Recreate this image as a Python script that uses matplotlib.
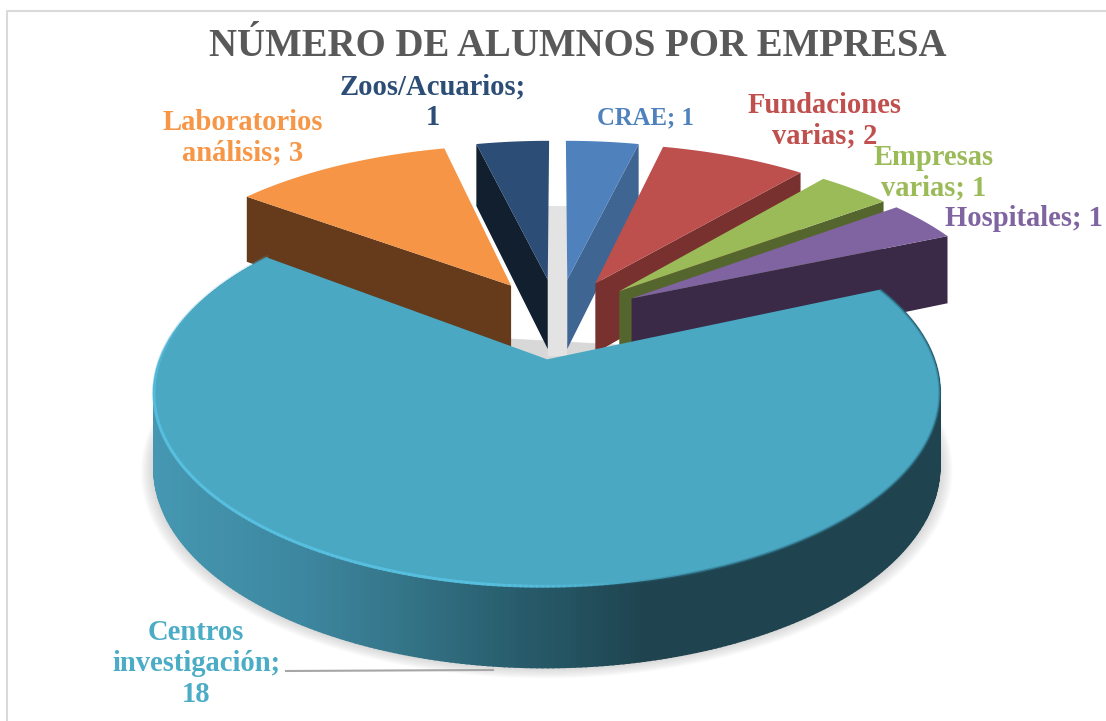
import numpy as np
import matplotlib
matplotlib.use("Agg")
import matplotlib.pyplot as plt
from matplotlib.patches import Polygon, Rectangle
from matplotlib.collections import LineCollection

# ---- data ----
title = "NÚMERO DE ALUMNOS POR EMPRESA"
categories = ["CRAE", "Fundaciones\nvarias", "Empresas\nvarias", "Hospitales",
              "Centros\ninvestigación", "Laboratorios\nanálisis", "Zoos/Acuarios"]
values = [1, 2, 1, 1, 18, 3, 1]

# ---- style ----
top_colors = ["#4f81bd", "#bd504d", "#9bbb59", "#8064a2", "#4aa8c3", "#f59545", "#2c4d75"]
wall_colors = ["#3f6592", "#793130", "#55652e", "#3a2a47", "#1f4450", "#653b1c", "#111f2f"]
label_colors = ["#4f81bd", "#c0504d", "#9bbb59", "#8064a2", "#4bacc6", "#f79646", "#2c4d75"]
label_pos = [(645, 118), (825, 121), (934, 173), (1024, 218), (196, 663.5), (243, 138), (433, 102)]
label_size = [17.8, 20.6, 20.6, 20.6, 20.6, 20.6, 20.6]
seps = ["; ", "; ", "; ", "; ", ";\n", "; ", ";\n"]
FONT = "Liberation Serif"

CX, CY, Q, K, E = 557.5, 318.0, 174.0, 0.168, 0.23
R_FRONT, R_BACK = 372.0, 379.0
D0, D1 = 71.0, 7.5


def project(p, q, low=False, R=R_BACK):
    w = 1 + K * q
    x = CX + R * p / w
    y = CY - Q * q / w
    if low:
        y = y + D0 - D1 * q
    return x, y


def slice_pts(a, b, mid, n=80, scale=1.0):
    th = np.linspace(a, b, n)
    ox, oy = E * np.sin(mid), E * np.cos(mid)
    return scale * np.sin(th) + ox, scale * np.cos(th) + oy, ox, oy


fig = plt.figure(figsize=(11.06, 7.21), dpi=100)
ax = fig.add_axes([0, 0, 1, 1])
ax.set_xlim(0, 1106)
ax.set_ylim(721, 0)
ax.axis("off")

ax.plot([7, 7, 1106], [721, 11, 11], color="#d9d9d9", lw=1.5, zorder=0)

vals = np.array(values, float)
edges = np.concatenate([[0], np.cumsum(vals)]) / vals.sum() * 2 * np.pi
big = int(np.argmax(vals))


def draw_shadow(a, b, mid, R, dx=0, dy=0, layers=9, grow=0.0035, level=0.035):
    for i in range(layers, 0, -1):
        p, q, ox, oy = slice_pts(a, b, mid, 160, 1 + i * grow)
        x, y = project(p, q, low=True, R=R)
        ax.add_patch(Polygon(np.c_[x + dx, y + dy + i * 0.2], closed=True, fc="#808080",
                             ec="none", alpha=level, zorder=1))


# ground shadows
draw_shadow(edges[big], edges[big + 1], (edges[big] + edges[big + 1]) / 2, R_FRONT)
draw_shadow(edges[3], edges[4], (edges[3] + edges[4]) / 2, R_BACK, dy=2, layers=5)
ax.add_patch(Rectangle((548, 206), 19, 150, fc="#e3e3e3", ec="none", zorder=1))


def draw_back(i, wall_angle, zorder):
    a, b = edges[i], edges[i + 1]
    mid = (a + b) / 2
    ox, oy = E * np.sin(mid), E * np.cos(mid)
    # radial wall
    oxp, oyp = np.sin(wall_angle) + ox, np.cos(wall_angle) + oy
    t1 = project(ox, oy)
    t2 = project(oxp, oyp)
    b2 = project(oxp, oyp, low=True)
    b1 = project(ox, oy, low=True)
    ax.add_patch(Polygon([t1, t2, b2, b1], closed=True, fc=wall_colors[i], ec="none", zorder=zorder))
    # top
    p, q, _, _ = slice_pts(a, b, mid)
    x, y = project(p, q)
    pts = np.vstack([[t1], np.c_[x, y]])
    ax.add_patch(Polygon(pts, closed=True, fc=top_colors[i], ec="none", zorder=zorder + 0.1))


# back slices, far to near: wall on the side facing the viewer
draw_back(0, edges[1], 2)      # CRAE
draw_back(6, edges[6], 2)      # Zoos
draw_back(5, edges[5], 3)      # Laboratorios
draw_back(1, edges[2], 3)      # Fundaciones
draw_back(2, edges[3], 4)      # Empresas
draw_back(3, edges[4], 5)      # Hospitales

# large slice: curved side with shading, then top
a, b = edges[big], edges[big + 1]
mid = (a + b) / 2
p, q, ox, oy = slice_pts(a, b, mid, 360)
xt, yt = project(p, q, R=R_FRONT)
xb, yb = project(p, q, low=True, R=R_FRONT)
shade_x = [150, 300, 400, 500, 640, 1000]
shade_rgb = np.array([[0x46, 0x98, 0xb2], [0x3d, 0x87, 0xa0], [0x35, 0x75, 0x89],
                      [0x29, 0x60, 0x70], [0x1f, 0x44, 0x50], [0x1f, 0x44, 0x50]]) / 255
for j in range(len(p) - 1):
    xm = (xt[j] + xt[j + 1]) / 2
    col = [np.interp(xm, shade_x, shade_rgb[:, c]) for c in range(3)]
    ax.add_patch(Polygon([(xt[j], yt[j]), (xt[j + 1], yt[j + 1]), (xb[j + 1], yb[j + 1]), (xb[j], yb[j])],
                         closed=True, fc=col, ec=col, lw=1.2, zorder=6))
apex = project(ox, oy, R=R_FRONT)
ax.add_patch(Polygon(np.vstack([[apex], np.c_[xt, yt]]), closed=True, fc=top_colors[big],
                     ec="none", zorder=7))

# bevel highlight on the front-left rim, soft dark edge on the right
pts = np.c_[xt, yt].reshape(-1, 1, 2)
segs = np.concatenate([pts[:-1], pts[1:]], axis=1)
seg_x = (xt[:-1] + xt[1:]) / 2
seg_y = (yt[:-1] + yt[1:]) / 2
alpha = np.interp(seg_x, [155, 250, 480, 640], [0.85, 0.9, 0.9, 0.0]) * np.interp(seg_y, [300, 450], [0.15, 1.0])
alpha_dark = np.interp(seg_x, [600, 700, 940], [0.0, 0.5, 0.5])
rim = np.zeros((len(segs), 4))
rim[:, :3] = matplotlib.colors.to_rgb("#58c0e0")
rim[:, 3] = alpha
ax.add_collection(LineCollection(segs + np.array([0, -1.0]), colors=rim, linewidths=2.2, zorder=8, capstyle="round"))
dark = np.zeros((len(segs), 4))
dark[:, :3] = matplotlib.colors.to_rgb("#2f7187")
dark[:, 3] = alpha_dark
ax.add_collection(LineCollection(segs, colors=dark, linewidths=2, zorder=8))

# leader line
ax.plot([286, 493], [671, 670], color="#a6a6a6", lw=1.5, zorder=9)

# labels
for name, val, sep, pos, col, fs in zip(categories, values, seps, label_pos, label_colors, label_size):
    ax.text(pos[0], pos[1], f"{name}{sep}{val}", color=col, fontsize=fs, fontweight="bold",
            family=FONT, ha="center", va="center", linespacing=1.17, zorder=10)

ax.text(578, 56.5, title, color="#595959", fontsize=28, fontweight="bold", family=FONT,
        ha="center", va="baseline", zorder=10)

fig.savefig("out.png", dpi=100)
